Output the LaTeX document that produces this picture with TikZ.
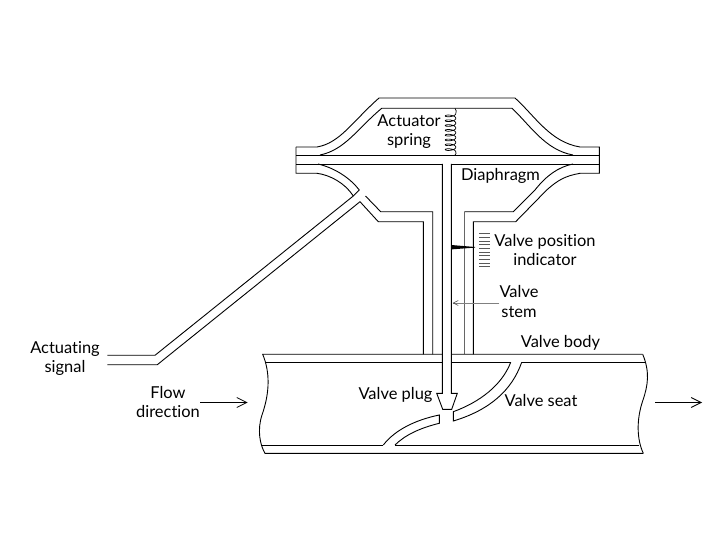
\documentclass[tikz,border=0pt]{standalone}
\usepackage{fontspec}
\setmainfont[Ligatures=NoCommon]{Lato}
\usetikzlibrary{arrows.meta}
\tikzset{
  ln/.style={line width=0.9pt,black,line join=miter},
  gln/.style={line width=0.9pt,black!60},
  lab/.style={font=\fontsize{16.5}{19.5}\selectfont,align=center,inner sep=0pt,text=black},
  flow/.style={line width=1.8pt,-{Straight Barb[length=10pt,width=10pt,line width=0.8pt]}},
}
\begin{document}
\begin{tikzpicture}[x=1bp,y=-1bp]
\useasboundingbox (0,0) rectangle (720,540);
% actuator top
\draw[ln] (296,147) -- (317,147) .. controls (340,143) and (352,122) .. (379,98) -- (515,98)
  .. controls (535,116) and (550,142) .. (580,147) -- (599.3,147) -- (599.3,173.3) -- (580,173.3)
  .. controls (565,176) and (558,180) .. (546.7,190) -- (515.7,221.7) -- (473.3,221.7) -- (473.3,354.3);
\draw[ln] (320,155) .. controls (345,150) and (358,128) .. (381.7,108.3) -- (512,108.3)
  .. controls (530,125) and (545,150) .. (573,155);
\draw[ln] (296,147) -- (296,173.3) -- (317,173.3) .. controls (330,175) and (345,183) .. (353.3,196);
\draw[ln] (296,155) -- (599.3,155);
\draw[ln] (296,164) -- (442.3,164);
\draw[ln] (451.3,164) -- (599.3,164);
\draw[ln] (318,164) .. controls (335,168) and (350,178) .. (359.3,190);
\draw[ln] (573,164) .. controls (558,167) and (546,176) .. (535,190) -- (513.3,211.7) -- (464.3,211.7);
\draw[gln] (464.3,211.7) -- (464.3,354.3);
% signal pipe
\draw[ln] (107.3,355.3) -- (155,355.3) -- (353.3,196);
\draw[ln] (107.3,364.7) -- (157.3,364.7) -- (360,201.7) -- (378.3,221.7) -- (423.3,221.7) -- (423.3,354.3);
\draw[ln] (365.5,196) -- (380.7,211.7) -- (432.7,211.7) -- (432.7,354.3);
\draw[ln] (353.3,196) -- (359.3,190);
% stem + plug
\draw[ln] (442.3,164) -- (442.3,393.3) -- (436.7,393.3) -- (442.7,409.3) -- (451.7,409.3) -- (457.3,393.3) -- (451.3,393.3) -- (451.3,164);
% spring
\draw[line width=0.7pt] (455,108.3) .. controls (456.5,110) and (456.5,112) .. (455.8,113.5);
\draw[line width=0.7pt] (455.8,152) .. controls (456.5,153) and (456,154) .. (455,155);
\draw[line width=0.7pt,smooth] plot[domain=0:2880,samples=240] ({450.5+5.3*cos(\x)},{113.5+\x/2880*38.5+1.9*sin(\x)});
% body
\draw[ln] (642.7,354.3) -- (451.3,354.3) (442.3,354.3) -- (262.7,354.3) .. controls (270,372) and (270,392) .. (262,415) .. controls (257,430) and (260,445) .. (265,453.3) -- (643.3,453.3);
\draw[ln] (265,362.3) -- (442.3,362.3) (451.3,362.3) -- (510.7,362.3);
\draw[ln] (521.7,362.3) -- (646,362.3);
\draw[ln] (261.5,445) -- (383.3,445) (395,445) -- (639.3,445);
\draw[ln] (642.7,354.3) .. controls (650,372) and (648,385) .. (643,400) .. controls (636,420) and (637,440) .. (643.3,453.3);
% seat
\draw[ln] (510.7,362.3) .. controls (502,385) and (480,402) .. (453.3,411.7) -- (453.3,421) .. controls (490,410) and (512,390) .. (521.7,362.3);
\draw[ln] (383.3,445) .. controls (395,430) and (415,420) .. (439.3,415) -- (439.3,423.3) .. controls (420,428) and (405,435) .. (395,445);
% indicator
\foreach \yy in {233.5,237.2,240.9,244.6,248.3,252,255.7,259.4,263.1,266.8}
  \draw[line width=0.7pt,black!65] (479.3,\yy) -- (490,\yy);
\fill (451.3,245) -- (475,247) -- (475,247.6) -- (451.3,249.4) -- cycle;
% valve stem arrow
\coordinate (sa) at (499.3,303);
\coordinate (sb) at (452.5,303);
\draw[line width=0.8pt,black!50,-{Straight Barb[length=5pt,width=5pt,line width=0.6pt,black!70]}] (sa) -- (sb);
% flow arrows
\coordinate (f1) at (200,402.5);
\coordinate (f2) at (247.7,402.5);
\coordinate (f3) at (655,402.5);
\coordinate (f4) at (702,402.5);
\draw[flow] (f1) -- (f2);
\draw[flow] (f3) -- (f4);
% labels
\node[lab] (t1) at (409,131.5) {Actuator\\spring};
\node[lab] (t2) at (500.5,175.5) {Diaphragm};
\node[lab] (t3) at (545,250) {Valve position\\indicator};
\node[lab] (t4) at (519,301.5) {Valve\\stem};
\node[lab] (t5) at (560.5,343) {Valve body};
\node[lab] (t6) at (395.5,394.5) {Valve plug};
\node[lab] (t7) at (541,401) {Valve seat};
\node[lab] (t8) at (65,358.5) {Actuating\\signal};
\node[lab] (t9) at (168,402) {Flow\\direction};
\end{tikzpicture}
\end{document}
